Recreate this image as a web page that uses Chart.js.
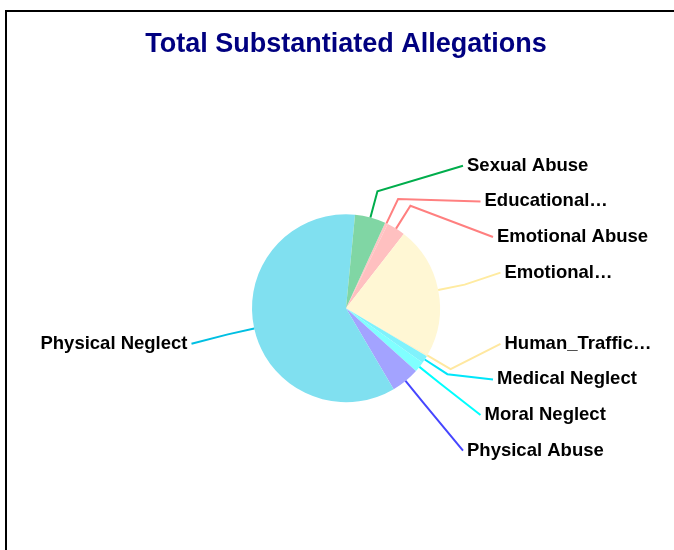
<!DOCTYPE html>
<html>
<head>
<meta charset="utf-8">
<script src="https://cdn.jsdelivr.net/npm/chart.js@4/dist/chart.umd.min.js"></script>
<style>
html,body{margin:0;padding:0;background:#fff}
#wrap{width:674px;height:550px;position:relative}
</style>
</head>
<body>
<div id="wrap"><canvas id="chart-allegations"></canvas></div>
<script>
const TITLE='Total Substantiated Allegations';
const LABELS=['Educational Neglect','Emotional Abuse','Emotional Neglect','Human_Trafficking','Medical Neglect','Moral Neglect','Physical Abuse','Physical Neglect','Sexual Abuse'];
const VALUES=[5,32,227,3,13,18,49,600,53];
const FILLS=['#ffc4c4','#ffc0c0','#fff7d4','#fff3c8','#80f2fc','#80ffff','#a3a3ff','#80e0f0','#80d6a4'];
const LINES=['#ff8080','#ff7f7f','#ffeba0','#ffe8a0','#00e6fa','#00ffff','#4646ff','#00bfe2','#00ad4c'];

const FONT='"Liberation Sans", Arial, sans-serif';
const SLOT=35.6, ELBOW=27, MAXW=156;

// white page with the black frame at top/left
const framePlugin={
  id:'frame',
  beforeDraw(chart){
    const ctx=chart.ctx;
    ctx.save();
    ctx.fillStyle='#fff';ctx.fillRect(0,0,chart.width,chart.height);
    ctx.strokeStyle='#000';ctx.lineWidth=2;
    ctx.beginPath();
    ctx.moveTo(6,chart.height);ctx.lineTo(6,11);ctx.lineTo(chart.width,11);
    ctx.stroke();
    ctx.restore();
  }
};

function fitText(ctx,t){
  if(ctx.measureText(t).width<=MAXW)return t;
  if(t.includes(' ')){
    const w=t.split(' ');
    while(w.length>1){w.pop();const s=w.join(' ')+'\u2026';if(ctx.measureText(s).width<=MAXW)return s;}
  }
  let s=t;
  while(s.length>1){s=s.slice(0,-1);if(ctx.measureText(s+'\u2026').width<=MAXW)return s+'\u2026';}
  return t;
}

// leader lines + labels stacked in slots on each side
const calloutPlugin={
  id:'callouts',
  afterDatasetsDraw(chart){
    const ctx=chart.ctx;
    const arcs=chart.getDatasetMeta(0).data;
    const items=arcs.map((a,i)=>{
      const mid=(a.startAngle+a.endAngle)/2;
      const r=a.outerRadius;
      return{i,cx:a.x,cy:a.y,
        ex:a.x+r*Math.cos(mid),ey:a.y+r*Math.sin(mid),
        bx:a.x+(r+ELBOW)*Math.cos(mid),by:a.y+(r+ELBOW)*Math.sin(mid),
        right:Math.cos(mid)>=0,upper:Math.sin(mid)<0};
    });
    [true,false].forEach(side=>{
      const up=items.filter(d=>d.right===side&&d.upper).sort((a,b)=>b.by-a.by);
      const lo=items.filter(d=>d.right===side&&!d.upper).sort((a,b)=>a.by-b.by);
      up.forEach((d,j)=>d.k=-(j+1));
      lo.forEach((d,j)=>d.k=j+1);
    });
    ctx.save();
    ctx.font='bold 18.5px '+FONT;
    ctx.textBaseline='middle';
    items.forEach(d=>{
      const dir=d.right?1:-1;
      const ax=d.cx+dir*(157-2.5*d.k*d.k);
      const ay=d.cy+d.k*SLOT;
      ctx.strokeStyle=LINES[d.i];ctx.lineWidth=2;
      ctx.beginPath();ctx.moveTo(d.ex,d.ey);ctx.lineTo(d.bx,d.by);ctx.lineTo(ax,ay);ctx.stroke();
      ctx.fillStyle='#000';
      ctx.textAlign=d.right?'left':'right';
      ctx.fillText(fitText(ctx,LABELS[d.i]),ax+dir*4,ay);
    });
    ctx.restore();
  }
};

new Chart(document.getElementById('chart-allegations'),{
  type:'pie',
  data:{labels:LABELS,datasets:[{data:VALUES,backgroundColor:FILLS,borderWidth:0,radius:94}]},
  options:{
    responsive:true,maintainAspectRatio:false,animation:false,
    rotation:24.6,
    layout:{padding:{left:18,right:0,top:0,bottom:0}},
    plugins:{
      legend:{display:false},
      tooltip:{enabled:false},
      title:{display:true,text:TITLE,color:'#000080',font:{family:FONT,size:27,weight:'bold'},padding:{top:28,bottom:6}}
    }
  },
  plugins:[framePlugin,calloutPlugin]
});
</script>
</body>
</html>
